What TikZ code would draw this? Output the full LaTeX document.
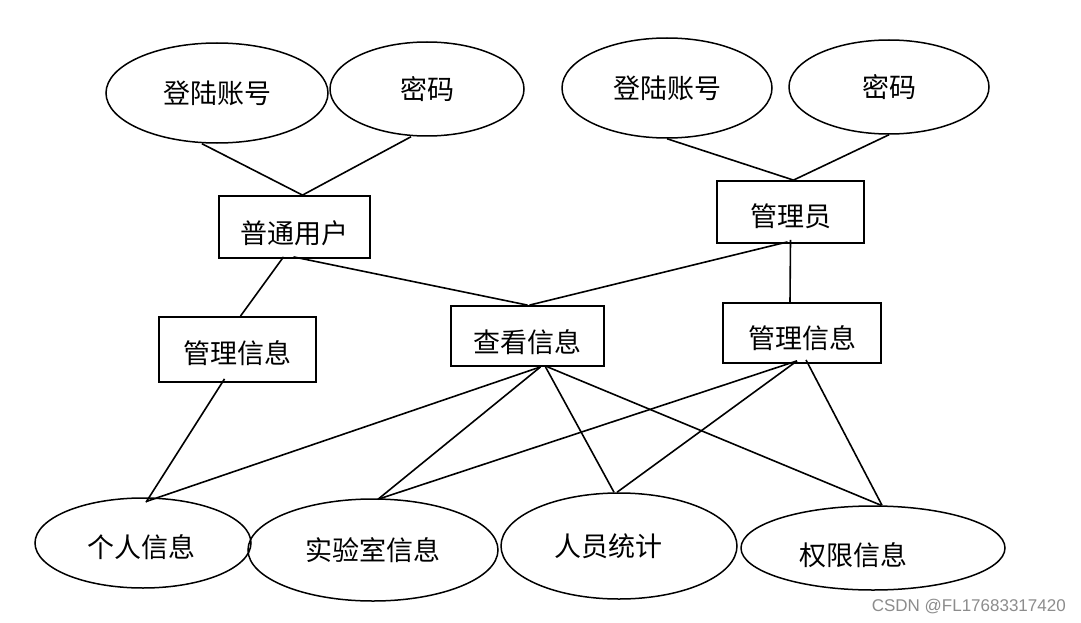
\documentclass[tikz,border=0pt]{standalone}
\usepackage{fontspec}
\newfontfamily\cjk{Noto Sans CJK SC}
\newfontfamily\wmfont{Liberation Sans}
\usetikzlibrary{shapes.geometric}
\tikzset{
  cjkfont/.style={font=\cjk\fontsize{27}{32}\selectfont},
  attr/.style={ellipse, draw=black, line width=1.5pt, inner sep=0pt, cjkfont},
  ent/.style={rectangle, draw=black, line width=1.8pt, inner sep=0pt, cjkfont},
  txt/.style={inner sep=0pt, cjkfont},
  dn0/.style={text height=20.6pt, text depth=0pt},
  dn4/.style={text height=28.6pt, text depth=0pt},
  dn5/.style={text height=30.6pt, text depth=0pt},
  dn6/.style={text height=32.6pt, text depth=0pt},
  conn/.style={draw=black, line width=1.6pt}
}
\begin{document}
\begin{tikzpicture}[x=1pt,y=-1pt]
\useasboundingbox[fill=white] (0,0) rectangle (1081,623);
% top attributes
\node[attr, dn0, minimum width=222pt, minimum height=100pt] (A1) at (217,93) {登陆账号};
\node[attr, dn0, minimum width=194pt, minimum height=94pt] (A2) at (427,89) {密码};
\node[attr, dn0, minimum width=210pt, minimum height=100pt] (B1) at (667,88) {登陆账号};
\node[attr, dn0, minimum width=200pt, minimum height=94pt] (B2) at (889,87) {密码};
% entities
\node[ent, dn6, minimum width=151pt, minimum height=62pt] (U) at (294.5,227) {普通用户};
\node[ent, dn4, minimum width=147pt, minimum height=62pt] (M) at (790.5,212) {管理员};
\node[ent, dn4, minimum width=157pt, minimum height=65pt] (L) at (237.5,349.5) {管理信息};
\node[ent, dn6, minimum width=153pt, minimum height=60pt] (C) at (527.5,336) {查看信息};
\node[ent, dn5, minimum width=158pt, minimum height=60pt] (R) at (802,333) {管理信息};
% bottom attributes
\node[attr, minimum width=216pt, minimum height=90pt] (E1) at (143,543) {};
\node[txt, dn0] (E1t) at (141,547) {个人信息};
\node[attr, dn0, minimum width=250pt, minimum height=102pt] (E2) at (373,550) {实验室信息};
\node[attr, minimum width=236pt, minimum height=106pt] (E3) at (619,546) {};
\node[txt, dn0] (E3t) at (608,546) {人员统计};
\node[attr, minimum width=264pt, minimum height=84pt] (E4) at (873,548) {};
\node[txt, dn0] (E4t) at (853,555) {权限信息};
% connectors
\draw[conn] ([xshift=-15pt]A1.south) -- ([xshift=8pt]U.north);
\draw[conn] ([xshift=-16pt]A2.south) -- ([xshift=8pt]U.north);
\draw[conn] (B1.south) -- ([xshift=3pt]M.north);
\draw[conn] (B2.south) -- ([xshift=3pt]M.north);
\draw[conn] ([xshift=-11pt,yshift=2pt]U.south) -- ([xshift=3pt]L.north);
\draw[conn] ([xshift=-1pt,yshift=2pt]U.south) -- (C.north);
\draw[conn] ([xshift=-3pt,yshift=2pt]M.south) -- ([xshift=2pt]C.north);
\draw[conn] ([yshift=4pt]M.south) -- ([xshift=-12pt]R.north);
\draw[conn] ([xshift=-13pt,yshift=4pt]L.south) -- ([xshift=3pt,yshift=-5pt]E1.north);
\draw[conn] ([xshift=13pt]C.south) -- ([xshift=4pt,yshift=-4pt]E1.north);
\draw[conn] ([xshift=13pt]C.south) -- ([xshift=5pt,yshift=-1pt]E2.north);
\draw[conn] ([xshift=18pt]C.south) -- ([xshift=-5pt]E3.north);
\draw[conn] ([xshift=20pt]C.south) -- ([xshift=8pt]E4.north);
\draw[conn] ([xshift=-5pt,yshift=3pt]R.south) -- ([xshift=5pt,yshift=-1pt]E2.north);
\draw[conn] ([xshift=-5pt,yshift=3pt]R.south) -- ([xshift=-2pt]E3.north);
\draw[conn] ([xshift=4pt,yshift=4pt]R.south) -- ([xshift=9pt]E4.north);
% watermark
\node[anchor=east, text=black!45, font=\wmfont\fontsize{17}{19}\selectfont, inner sep=0pt] (wm) at (1066,607) {CSDN @FL17683317420};
\end{tikzpicture}
\end{document}
